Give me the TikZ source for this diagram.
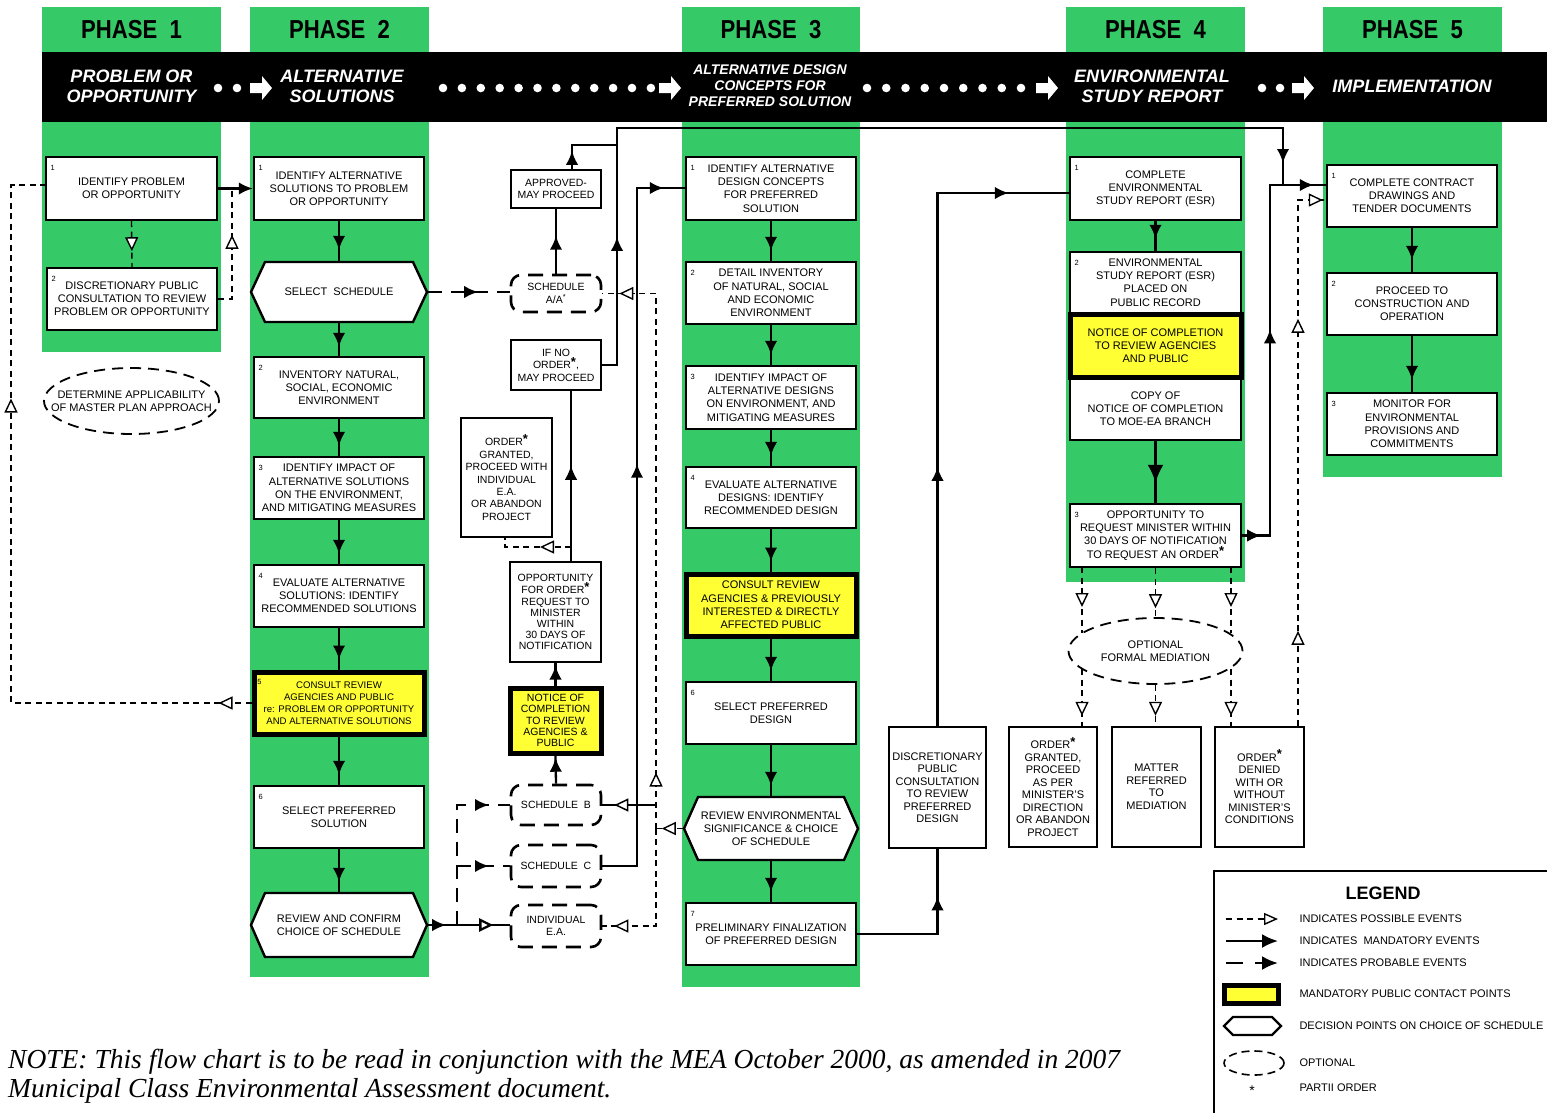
\documentclass[tikz,border=0pt]{standalone}
\usepackage{fontspec}
\setmainfont{Liberation Sans}
\newfontfamily\mynotefam{Liberation Serif}
\usepackage{graphicx}
\usetikzlibrary{arrows.meta,decorations.markings,shapes.geometric}
\definecolor{pgreen}{RGB}{54,201,104}
\definecolor{pyellow}{RGB}{255,255,51}
\newcommand\mybx{\fontsize{11}{13.2}\selectfont}
\newcommand\myyl{\fontsize{9.6}{11.8}\selectfont}
\newcommand\mymd{\fontsize{10.5}{12.4}\selectfont}
\newcommand\myop{\fontsize{10.5}{11.2}\selectfont}
\newcommand\mytl{\fontsize{11}{12.5}\selectfont}
\newcommand\mynm{\fontsize{7.5}{8}\selectfont}
\newcommand\myph{\fontsize{26}{28}\selectfont\bfseries}
\newcommand\myhd{\fontsize{18}{20}\selectfont\bfseries\itshape}
\newcommand\myhds{\fontsize{14}{16}\selectfont\bfseries\itshape}
\newcommand\mylg{\fontsize{18}{20}\selectfont\bfseries}
\newcommand\mylgt{\fontsize{11}{13}\selectfont}
\newcommand\mynote{\mynotefam\itshape\fontsize{27.5}{30}\selectfont}
\newcommand\myst{\raisebox{2.5pt}{\fontsize{13}{13}\selectfont\bfseries *}}
\newcommand\bx[7][]{\node[box,#1,minimum width={#5-#3},minimum height={#6-#4}] (#2) at ({(#3+#5)/2},{(#4+#6)/2}) {#7};}
\newcommand\hx[6]{%
 \draw[line width=2.4pt, fill=white] (#2,{(#3+#5)/2}) -- (#2+14,#3) -- (#4-14,#3) -- (#4,{(#3+#5)/2}) -- (#4-14,#5) -- (#2+14,#5) -- cycle;
 \node[font=\mybx, align=center, inner sep=0, outer sep=1.2pt, minimum width={#4-#2}, minimum height={#5-#3}] (#1) at ({(#2+#4)/2},{(#3+#5)/2}) {#6};}
\newcommand\nm[2]{\node[font=\mynm, inner sep=0] at ([xshift=8pt,yshift=-12pt]#1.north west) {#2};}
\begin{document}
\begin{tikzpicture}[x=1pt,y=-1pt,
 box/.style={draw, line width=2.4pt, fill=white, align=center, inner sep=1pt, font=\mybx},
 ybox/.style={box, fill=pyellow, line width=5pt},
 dbox/.style={draw, line width=2.6pt, dash pattern=on 15pt off 9pt, rounded corners=10pt, fill=white, align=center, inner sep=1pt, font=\mymd},
 optell/.style={draw, ellipse, line width=1.8pt, dash pattern=on 11pt off 7pt, inner sep=0},
 mand/.style={line width=2.3pt},
 thinl/.style={line width=1.5pt},
 poss/.style={line width=1.4pt, dash pattern=on 6pt off 4.5pt},
 prob/.style={line width=2.5pt, dash pattern=on 14pt off 9pt},
 fa/.style={postaction={decorate,decoration={markings,mark=at position #1 with {\pgfsetdash{}{0pt}\arrow{Latex[length=14pt,width=12.5pt]}}}}},
 fab/.style={postaction={decorate,decoration={markings,mark=at position #1 with {\pgfsetdash{}{0pt}\arrow{Latex[length=18pt,width=16pt]}}}}},
 oa/.style={postaction={decorate,decoration={markings,mark=at position #1 with {\pgfsetdash{}{0pt}\arrow{Triangle[length=14pt,width=13pt,fill=white]}}}}},
 hdr/.style={text=white, font=\myhd, align=center},
]
\useasboundingbox (0,0) rectangle (1547,1112);
\fill[white] (0,0) rectangle (1547,1112);
% green columns
\fill[pgreen] (42,7) rectangle (221,352);
\fill[pgreen] (250,7) rectangle (429,977);
\fill[pgreen] (682,7) rectangle (860,987);
\fill[pgreen] (1066,7) rectangle (1245,582);
\fill[pgreen] (1323,7) rectangle (1502,477);
\fill[black] (42,52) rectangle (1547,122);
% phase labels
\node[font=\myph] (ph1) at (131.5,30) {\scalebox{0.85}[1]{PHASE\ \ 1}};
\node[font=\myph] (ph2) at (339.5,30) {\scalebox{0.85}[1]{PHASE\ \ 2}};
\node[font=\myph] (ph3) at (771,30) {\scalebox{0.85}[1]{PHASE\ \ 3}};
\node[font=\myph] (ph4) at (1155.5,30) {\scalebox{0.85}[1]{PHASE\ \ 4}};
\node[font=\myph] (ph5) at (1412.5,30) {\scalebox{0.85}[1]{PHASE\ \ 5}};
% dots and arrows in bar
\foreach \x in {218,237,1262,1280} \fill[white] (\x,88) circle[radius=4.3pt];
\foreach \i in {0,...,11} \fill[white] ({443+\i*18.9},88) circle[radius=4.3pt];
\foreach \i in {0,...,8} \fill[white] ({867+\i*19.25},88) circle[radius=4.3pt];
\foreach \x in {250,659,1036,1292} \fill[white] (\x,83) -- (\x+12,83) -- (\x+12,76) -- (\x+22,88) -- (\x+12,100) -- (\x+12,93) -- (\x,93) -- cycle;
\node[hdr] (t1) at (131.5,86) {PROBLEM OR\\OPPORTUNITY};
\node[hdr] (t2) at (342,86) {ALTERNATIVE\\SOLUTIONS};
\node[hdr, font=\myhds] (t3) at (770,86) {ALTERNATIVE DESIGN\\CONCEPTS FOR\\PREFERRED SOLUTION};
\node[hdr] (t4) at (1152,86) {ENVIRONMENTAL\\STUDY REPORT};
\node[hdr] (t5) at (1412,86) {IMPLEMENTATION};
% ---------------- Phase 1
\bx{p11}{46}{157}{217}{220}{IDENTIFY PROBLEM\\OR OPPORTUNITY} \nm{p11}{1}
\bx{p12}{47}{268}{217}{330}{DISCRETIONARY PUBLIC\\CONSULTATION TO REVIEW\\PROBLEM OR OPPORTUNITY} \nm{p12}{2}
\node[optell, minimum width=175, minimum height=66, label={[font=\mybx, align=center]center:{DETERMINE APPLICABILITY\\OF MASTER PLAN APPROACH}}] (det) at (131.5,401) {};
% ---------------- Phase 2
\bx{p21}{254}{157}{424}{220}{IDENTIFY ALTERNATIVE\\SOLUTIONS TO PROBLEM\\OR OPPORTUNITY} \nm{p21}{1}
\hx{h1}{251}{262}{427}{322}{SELECT\ \ SCHEDULE}
\bx{p22}{254}{357}{424}{418}{INVENTORY NATURAL,\\SOCIAL, ECONOMIC\\ENVIRONMENT} \nm{p22}{2}
\bx{p23}{254}{457}{424}{519}{IDENTIFY IMPACT OF\\ALTERNATIVE SOLUTIONS\\ON THE ENVIRONMENT,\\AND MITIGATING MEASURES} \nm{p23}{3}
\bx{p24}{254}{565}{424}{627}{EVALUATE ALTERNATIVE\\SOLUTIONS: IDENTIFY\\RECOMMENDED SOLUTIONS} \nm{p24}{4}
\bx[ybox, font=\myyl]{p25}{254}{672}{424}{734}{CONSULT REVIEW\\AGENCIES AND PUBLIC\\re: PROBLEM OR OPPORTUNITY\\AND ALTERNATIVE SOLUTIONS} \nm{p25}{5}
\bx{p26}{254}{786}{424}{848}{SELECT PREFERRED\\SOLUTION} \nm{p26}{6}
\hx{h2}{251}{893}{427}{957}{REVIEW AND CONFIRM\\CHOICE OF SCHEDULE}
% ---------------- middle column
\bx[dbox]{aa}{511}{275}{601}{312}{SCHEDULE\\A/A\textsuperscript{*}}
\bx[font=\mymd]{appr}{511}{170}{601}{208}{APPROVED-\\MAY PROCEED}
\bx[font=\mymd]{ifno}{511}{340}{601}{390}{IF NO\\ORDER\myst,\\MAY PROCEED}
\bx[font=\mymd]{ogr}{461}{418}{552}{537}{ORDER\myst\\GRANTED,\\PROCEED WITH\\INDIVIDUAL\\E.A.\\OR ABANDON\\PROJECT}
\bx[font=\myop]{oppo}{510}{562}{601}{662}{OPPORTUNITY\\FOR ORDER\myst\\REQUEST TO\\MINISTER\\WITHIN\\30 DAYS OF\\NOTIFICATION}
\bx[ybox, font=\myop]{notice}{510}{688}{601}{753}{NOTICE OF\\COMPLETION\\TO REVIEW\\AGENCIES \&\\PUBLIC}
\bx[dbox]{schB}{511}{785}{601}{825}{SCHEDULE\ \ B}
\bx[dbox]{schC}{511}{845}{601}{887}{SCHEDULE\ \ C}
\bx[dbox]{indiv}{511}{905}{601}{947}{INDIVIDUAL\\E.A.}
% ---------------- Phase 3
\bx{p31}{686}{157}{856}{220}{IDENTIFY ALTERNATIVE\\DESIGN CONCEPTS\\FOR PREFERRED\\SOLUTION} \nm{p31}{1}
\bx{p32}{686}{262}{856}{324}{DETAIL INVENTORY\\OF NATURAL, SOCIAL\\AND ECONOMIC\\ENVIRONMENT} \nm{p32}{2}
\bx{p33}{686}{366}{856}{429}{IDENTIFY IMPACT OF\\ALTERNATIVE DESIGNS\\ON ENVIRONMENT, AND\\MITIGATING MEASURES} \nm{p33}{3}
\bx{p34}{686}{467}{856}{528}{EVALUATE ALTERNATIVE\\DESIGNS: IDENTIFY\\RECOMMENDED DESIGN} \nm{p34}{4}
\bx[ybox]{p35}{686}{574}{856}{636}{CONSULT REVIEW\\AGENCIES \& PREVIOUSLY\\INTERESTED \& DIRECTLY\\AFFECTED PUBLIC}
\bx{p36}{686}{682}{856}{744}{SELECT PREFERRED\\DESIGN} \nm{p36}{6}
\hx{h3}{684}{797}{858}{860}{REVIEW ENVIRONMENTAL\\SIGNIFICANCE \& CHOICE\\OF SCHEDULE}
\bx{p37}{686}{903}{856}{965}{PRELIMINARY FINALIZATION\\OF PREFERRED DESIGN} \nm{p37}{7}
\bx[font=\mytl]{disc}{889}{727}{986}{848}{DISCRETIONARY\\PUBLIC\\CONSULTATION\\TO REVIEW\\PREFERRED\\DESIGN}
% ---------------- Phase 4
\bx{p41}{1070}{157}{1241}{220}{COMPLETE\\ENVIRONMENTAL\\STUDY REPORT (ESR)} \nm{p41}{1}
\bx{p42}{1070}{252}{1241}{313}{ENVIRONMENTAL\\STUDY REPORT (ESR)\\PLACED ON\\PUBLIC RECORD} \nm{p42}{2}
\bx{copy}{1070}{378}{1241}{440}{COPY OF\\NOTICE OF COMPLETION\\TO MOE-EA BRANCH}
\bx[ybox]{nyel}{1070}{314}{1241}{377}{NOTICE OF COMPLETION\\TO REVIEW AGENCIES\\AND PUBLIC}
\bx{p43}{1070}{504}{1241}{567}{OPPORTUNITY TO\\REQUEST MINISTER WITHIN\\30 DAYS OF NOTIFICATION\\TO REQUEST AN ORDER\myst} \nm{p43}{3}
\node[optell, minimum width=174, minimum height=66, label={[font=\mytl, align=center]center:{OPTIONAL\\FORMAL MEDIATION}}] (med) at (1155.5,651) {};
\bx[font=\mytl]{ogg}{1009}{727}{1097}{847}{ORDER\myst\\GRANTED,\\PROCEED\\AS PER\\MINISTER'S\\DIRECTION\\OR ABANDON\\PROJECT}
\bx[font=\mytl]{mat}{1112}{727}{1201}{847}{MATTER\\REFERRED\\TO\\MEDIATION}
\bx[font=\mytl]{odn}{1215}{727}{1304}{847}{ORDER\myst\\DENIED\\WITH OR\\WITHOUT\\MINISTER'S\\CONDITIONS}
% ---------------- Phase 5
\bx{p51}{1327}{165}{1497}{227}{COMPLETE CONTRACT\\DRAWINGS AND\\TENDER DOCUMENTS} \nm{p51}{1}
\bx{p52}{1327}{273}{1497}{335}{PROCEED TO\\CONSTRUCTION AND\\OPERATION} \nm{p52}{2}
\bx{p53}{1327}{393}{1497}{455}{MONITOR FOR\\ENVIRONMENTAL\\PROVISIONS AND\\COMMITMENTS} \nm{p53}{3}
% ---------------- coordinates
\coordinate (j1) at (232,188);
\coordinate (lb) at (11,703);
\coordinate (lt) at (11,185);
\coordinate (ja) at (572,145);
\coordinate (r1) at (617,145);
\coordinate (r2) at (617,128);
\coordinate (r3) at (1283,128);
\coordinate (r4) at (1283,185);
\coordinate (s1) at (1270,185);
\coordinate (d1) at (1298,200);
\coordinate (o1) at (571,547);
\coordinate (o2) at (505,547);
\coordinate (q0) at (457,925);
\coordinate (qB) at (457,805);
\coordinate (qC) at (457,866);
\coordinate (v0) at (656,828.5);
\coordinate (vt) at (656,293.5);
\coordinate (vb) at (656,926);
\coordinate (vB) at (656,805);
\coordinate (w1) at (637,188);
\coordinate (z2) at (937.5,193);
\coordinate (mL0) at (1082,567);
\coordinate (mL1) at (1082,633);
\coordinate (mL2) at (1082,669);
\coordinate (mR0) at (1231,567);
\coordinate (mR1) at (1231,633);
\coordinate (mR2) at (1231,669);
% ---------------- connectors phase 1
\draw[mand, -{Latex[length=14pt,width=12.5pt]}] (p11.east) -- (p21.west);
\draw[poss, oa=30pt] (p11.south) -- (p12.north);
\draw[poss, oa=78pt] (p12.east) -| (j1);
\draw[poss, oa=33pt, oa=545pt] (p25.west) -- (lb) -- (lt) -- (lt -| p11.west);
% phase 2 chain
\draw[mand, fa=-11pt] (p21.south) -- (h1.north);
\draw[mand, fa=-9pt] (h1.south) -- (p22.north);
\draw[mand, fa=-10pt] (p22.south) -- (p23.north);
\draw[mand, fa=-10pt] (p23.south) -- (p24.north);
\draw[mand, fa=-10pt] (p24.south) -- (p25.north);
\draw[mand, fa=-10pt] (p25.south) -- (p26.north);
\draw[mand, fa=-10pt] (p26.south) -- (h2.north);
% middle connectors
\draw[prob, fa=50pt] (h1.east) -- (h1.east -| aa.west);
\draw[mand, fa=38pt] (aa.north) -- (appr.south);
\draw[mand, fa=18pt] (appr.north -| ja) -- (ja) -- (r1);
\draw[mand, fa=143pt, fa=-22pt] (ifno.east) -| (r2) -- (r3) -- (r4);
\draw[thinl, fa=95pt] (oppo.north -| o1) -- (ifno.south -| o1);
\draw[poss, oa=31pt] (o1) -- (o2) -- (o2 |- ogr.south);
\draw[mand, fa=20pt] (notice.north) -- (oppo.south);
\draw[mand, fa=26pt] (schB.north) -- (notice.south);
\draw[mand, fa=18pt, oa=65pt] (h2.east) -- (h2.east -| indiv.west);
\draw[prob, fa=152pt] (q0) -- (qB) -- (qB -| schB.west);
\draw[prob, fa=32pt] (qC) -- (qC -| schC.west);
\draw[poss, oa=21pt] (h3.west) -- (v0);
\draw[poss, oa=56pt, oa=-17pt] (v0) -- (vt) -- (vt -| aa.east);
\draw[poss, oa=-12pt] (v0) -- (vb) -- (vb -| indiv.east);
\draw[thinl, oa=-12pt] (vB) -- (vB -| schB.east);
\draw[mand, fa=437pt, fa=-21pt] (schC.east) -| (w1) -- (w1 -| p31.west);
% phase 3 chain
\draw[mand, fa=-10pt] (p31.south) -- (p32.north);
\draw[mand, fa=-10pt] (p32.south) -- (p33.north);
\draw[mand, fa=-10pt] (p33.south) -- (p34.north);
\draw[mand, fa=-10pt] (p34.south) -- (p35.north);
\draw[mand, fa=-10pt] (p35.south) -- (p36.north);
\draw[mand, fa=-10pt] (p36.south) -- (h3.north);
\draw[mand, fa=-10pt] (h3.south) -- (p37.north);
\draw[mand, fa=118pt] (p37.east) -| (disc.south);
\draw[mand, fa=259pt, fa=-60pt] (disc.north) -- (z2) -- (z2 -| p41.west);
% phase 4
\draw[mand, fa=-12pt] (p41.south) -- (p42.north);
\draw[mand, fab=-20pt] (copy.south) -- (p43.north);
\draw[mand, fa=19pt, fa=234pt, fa=-12pt] (p43.east) -| (s1) -- (s1 -| p51.west);
\draw[poss, oa=95pt, oa=407pt, oa=-3pt] (odn.north -| d1) -- (d1) -- (d1 -| p51.west);
\draw[poss, oa=40pt] (mL0) -- (mL1);
\draw[poss, oa=-10pt] (mL2) -- (ogg.north -| mL2);
\draw[poss, oa=40pt] (p43.south) -- (med.north);
\draw[poss, oa=-10pt] (med.south) -- (med.south |- mat.north);
\draw[poss, oa=40pt] (mR0) -- (mR1);
\draw[poss, oa=-10pt] (mR2) -- (odn.north -| mR2);
% phase 5
\draw[mand, fa=-12pt] (p51.south) -- (p52.north);
\draw[mand, fa=-12pt] (p52.south) -- (p53.north);
% ---------------- legend
\draw[line width=2pt] (1214,1116) -- (1214,871) -- (1552,871);
\node[font=\mylg] (lgt) at (1383,893) {LEGEND};
\coordinate (la1) at (1226,919); \coordinate (lb1) at (1278,919);
\coordinate (la2) at (1226,941); \coordinate (lb2) at (1278,941);
\coordinate (la3) at (1226,963); \coordinate (lb3) at (1278,963);
\draw[poss, -{Triangle[length=14pt,width=12pt,fill=white]}] (la1) -- (lb1);
\draw[mand, -{Latex[length=16pt,width=14pt]}] (la2) -- (lb2);
\draw[prob, dash pattern=on 17pt off 12pt, -{Latex[length=16pt,width=14pt]}] (la3) -- (lb3);
\draw[line width=5pt, fill=pyellow] (1224,985) rectangle (1278,1003);
\draw[line width=2.4pt, fill=white] (1224,1026) -- (1233,1017) -- (1272,1017) -- (1281,1026) -- (1272,1035) -- (1233,1035) -- cycle;
\draw[line width=1.6pt, dash pattern=on 8pt off 5pt] (1254,1063) ellipse [x radius=30pt, y radius=12pt];
\node[font=\mylgt] (star) at (1252,1091) {\fontsize{14}{14}\selectfont *};
\node[font=\mylgt, anchor=west] (lg1) at (1296,919) {INDICATES POSSIBLE EVENTS};
\node[font=\mylgt, anchor=west] (lg2) at (1296,941) {INDICATES\ \ MANDATORY EVENTS};
\node[font=\mylgt, anchor=west] (lg3) at (1296,963) {INDICATES PROBABLE EVENTS};
\node[font=\mylgt, anchor=west] (lg4) at (1296,994) {MANDATORY PUBLIC CONTACT POINTS};
\node[font=\mylgt, anchor=west] (lg5) at (1296,1026) {DECISION POINTS ON CHOICE OF SCHEDULE};
\node[font=\mylgt, anchor=west] (lg6) at (1296,1063) {OPTIONAL};
\node[font=\mylgt, anchor=west] (lg7) at (1296,1088) {PARTII ORDER};
% ---------------- note
\node[anchor=base west, font=\mynote, inner sep=0] (note1) at (8,1068) {NOTE: This flow chart is to be read in conjunction with the MEA October 2000, as amended in 2007};
\node[anchor=base west, font=\mynote, inner sep=0] (note2) at (8,1097) {Municipal Class Environmental Assessment document.};
\end{tikzpicture}
\end{document}
